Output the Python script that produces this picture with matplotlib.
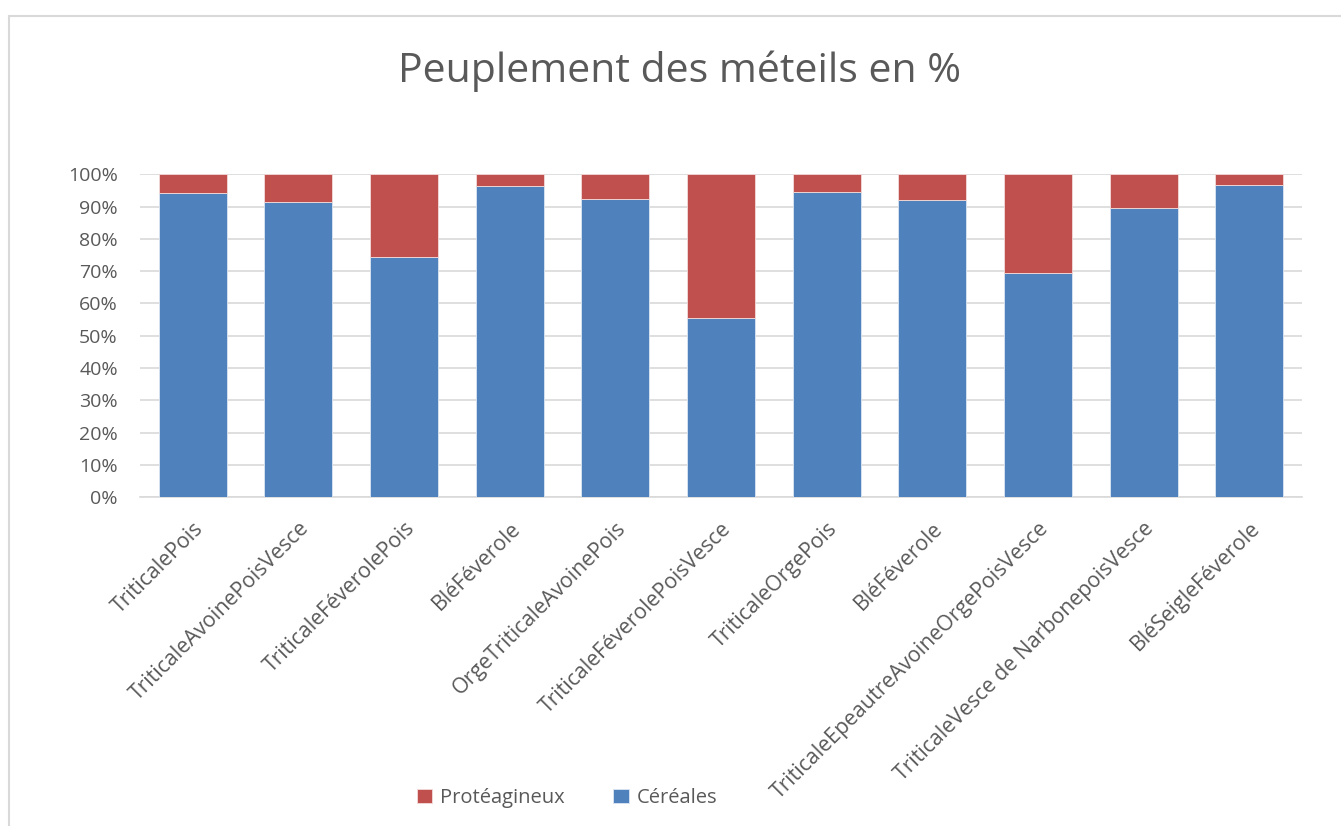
import numpy as np
import matplotlib.pyplot as plt
from matplotlib.patches import Rectangle
from matplotlib.ticker import PercentFormatter

# Données (%)
categories = ['TriticalePois', 'TriticaleAvoinePoisVesce', 'TriticaleFéverolePois',
              'BléFéverole', 'OrgeTriticaleAvoinePois', 'TriticaleFéverolePoisVesce',
              'TriticaleOrgePois', 'BléFéverole', 'TriticaleEpeautreAvoineOrgePoisVesce',
              'TriticaleVesce de NarbonepoisVesce', 'BléSeigleFéverole']
cereales = [94.3, 91.5, 74.5, 96.5, 92.2, 55.6, 94.6, 92.0, 69.3, 89.7, 96.7]
proteagineux = [100 - c for c in cereales]

bleu = '#4F81BD'
rouge = '#C0504D'
gris_texte = '#595959'

plt.rcParams['font.family'] = ['Open Sans', 'DejaVu Sans']

fig = plt.figure(figsize=(13.41, 8.26), dpi=100)
ax = fig.add_axes([0.1044, 0.398, 0.8665, 0.391])

x = np.arange(len(categories))
ax.bar(x, cereales, width=0.644, color=bleu, edgecolor='#DCE6F2', linewidth=0.6,
       label='Céréales', zorder=3)
ax.bar(x, proteagineux, width=0.644, bottom=cereales, color=rouge,
       edgecolor='#F2DCDB', linewidth=0.6, label='Protéagineux', zorder=3)

ax.set_xlim(-0.5, len(categories) - 0.5)
ax.set_ylim(0, 100)
ax.set_yticks(np.arange(0, 101, 10))
ax.yaxis.set_major_formatter(PercentFormatter(decimals=0))
ax.grid(axis='y', color='#D9D9D9', linewidth=1.2, zorder=0)
ax.set_axisbelow(True)
for s in ['top', 'right', 'left']:
    ax.spines[s].set_visible(False)
ax.spines['bottom'].set_color('#D9D9D9')
ax.spines['bottom'].set_linewidth(1.2)
ax.tick_params(axis='both', length=0, colors=gris_texte, labelsize=14)
ax.tick_params(axis='y', pad=16)
ax.tick_params(axis='x', pad=15)

ax.set_xticks(x)
ax.set_xticklabels(categories, rotation=45, ha='right', rotation_mode='anchor',
                   fontsize=15.3)

fig.text(0.507, 0.914, 'Peuplement des méteils en %', ha='center', va='center',
         fontsize=29.5, color=gris_texte)

handles, labels = ax.get_legend_handles_labels()
fig.legend(handles[::-1], labels[::-1], loc='center', bbox_to_anchor=(0.423, 0.034),
           ncol=2, frameon=False, fontsize=14.5, labelcolor=gris_texte,
           handlelength=0.75, handleheight=0.75, columnspacing=2.4, handletextpad=0.4)

# cadre du graphique
fig.patches.append(Rectangle((9 / 1341, -0.1), 1.2, 1.1 - 16 / 826,
                             transform=fig.transFigure, fill=False,
                             edgecolor='#D9D9D9', linewidth=1.5))

fig.savefig('out.png', dpi=100)
